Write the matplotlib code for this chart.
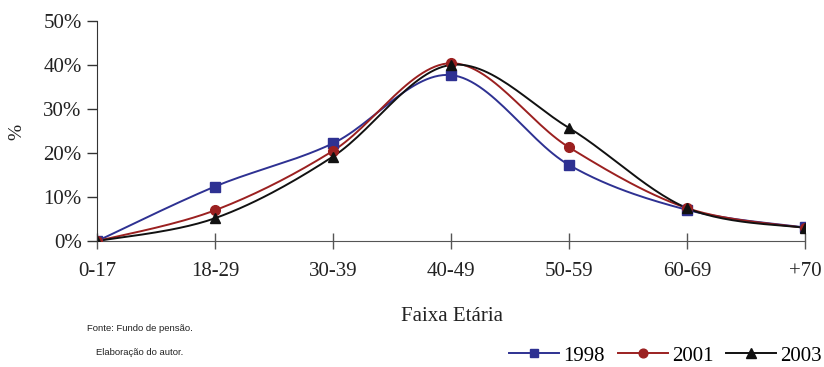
import numpy as np
import matplotlib as mpl
mpl.use('Agg')
import matplotlib.pyplot as plt
from matplotlib.lines import Line2D

faixas = ['0-17', '18-29', '30-39', '40-49', '50-59', '60-69', '+70']
anos = ['1998', '2001', '2003']
v1998 = [0.0, 12.4, 22.2, 37.7, 17.3, 7.1, 3.1]
v2001 = [0.0, 7.0, 20.5, 40.4, 21.3, 7.5, 3.0]
v2003 = [0.0, 5.2, 19.2, 40.0, 25.7, 7.5, 3.0]

cores = ['#2e3192', '#9b2020', '#111111']
marcas = ['s', 'o', '^']
tamanhos = [6.5, 7, 7.5]


def suaviza(x, y, n=30):
    # curva suavizada (Catmull-Rom em forma de Bezier) passando pelos pontos
    x = np.asarray(x, float)
    y = np.asarray(y, float)
    px = np.concatenate([[x[0]], x, [x[-1]]])
    py = np.concatenate([[y[0]], y, [y[-1]]])
    xs, ys = [], []
    t = np.linspace(0, 1, n)
    for i in range(1, len(px) - 2):
        p0 = np.array([px[i], py[i]])
        p3 = np.array([px[i + 1], py[i + 1]])
        c1 = p0 + (np.array([px[i + 1], py[i + 1]]) - np.array([px[i - 1], py[i - 1]])) / 6
        c2 = p3 - (np.array([px[i + 2], py[i + 2]]) - np.array([px[i], py[i]])) / 6
        b = ((1 - t) ** 3)[:, None] * p0 + (3 * (1 - t) ** 2 * t)[:, None] * c1 \
            + (3 * (1 - t) * t ** 2)[:, None] * c2 + (t ** 3)[:, None] * p3
        xs.extend(b[:, 0])
        ys.extend(b[:, 1])
    return np.array(xs), np.array(ys)


fig = plt.figure(figsize=(8.24, 3.67), dpi=100)
ax = fig.add_axes([0.1177, 0.343, 0.8592, 0.600])

x = np.arange(len(faixas))
for serie, cor, m, ms in zip([v1998, v2001, v2003], cores, marcas, tamanhos):
    sx, sy = suaviza(x, serie)
    ax.plot(sx, sy, color=cor, lw=1.4, zorder=2)
    ax.plot(x, serie, ls='none', marker=m, ms=ms, color=cor, zorder=3)

ax.set_xlim(0, len(faixas) - 1)
ax.set_ylim(0, 50)
ax.set_xticks(x)
ax.set_xticklabels(faixas)
ax.set_yticks(range(0, 51, 10))
ax.set_yticklabels(['%d%%' % v for v in range(0, 51, 10)])

serif = 'Liberation Serif'
for lbl in ax.get_xticklabels() + ax.get_yticklabels():
    lbl.set_fontfamily(serif)
    lbl.set_fontsize(15)
    lbl.set_color('#222222')

ax.spines['top'].set_visible(False)
ax.spines['right'].set_visible(False)
ax.spines['left'].set_color('#333333')
ax.spines['bottom'].set_color('#555555')
ax.spines['left'].set_zorder(5)
ax.spines['bottom'].set_zorder(1)
ax.tick_params(axis='x', direction='inout', length=12, width=1, color='#555555', pad=9)
ax.tick_params(axis='y', direction='out', length=7, width=1, color='#333333', pad=4)
for lbl in ax.get_xticklabels():
    lbl.set_clip_on(False)

fig.text(0.021, 0.64, '%', rotation=90, family=serif, fontsize=14,
         color='#222222', ha='center', va='center')
fig.text(0.548, 0.138, 'Faixa Etária', family=serif, fontsize=15,
         color='#222222', ha='center', va='center')
fig.text(0.170, 0.105, 'Fonte: Fundo de pensão.', family='Liberation Sans',
         fontsize=6.8, color='#222222', ha='center', va='center')
fig.text(0.169, 0.040, 'Elaboração do autor.', family='Liberation Sans',
         fontsize=6.8, color='#222222', ha='center', va='center')

handles = [Line2D([], [], color=c, marker=m, ms=ms * 0.9, lw=1.4)
           for c, m, ms in zip(cores, marcas, tamanhos)]
fig.legend(handles, anos, loc='center right', bbox_to_anchor=(0.997, 0.03),
           ncol=3, frameon=False, prop={'family': serif, 'size': 15},
           handlelength=2.4, handletextpad=0.2, columnspacing=0.6,
           borderaxespad=0.0, borderpad=0.0)

fig.savefig('out.png', dpi=100)
